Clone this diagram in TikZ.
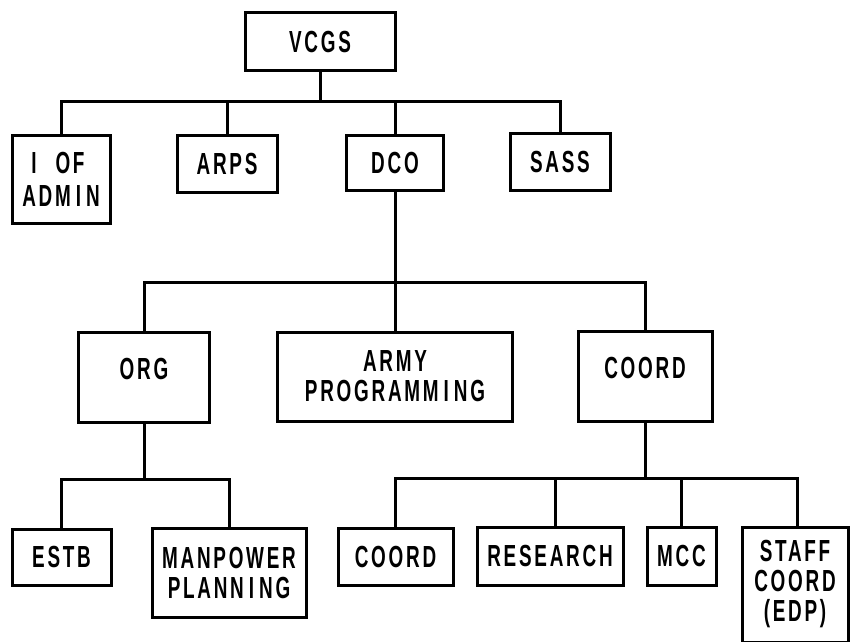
\documentclass[tikz,border=0pt]{standalone}
\usepackage{fontspec}
\setmainfont{Liberation Sans}[FakeStretch=0.62,LetterSpace=9]
\newcommand\Ii{\kern5pt I\kern5pt}
\begin{document}
\begin{tikzpicture}[x=1pt,y=-1pt,
  box/.style={draw, line width=3pt, inner sep=0pt, align=center,
    font=\bfseries\fontsize{30.5}{30}\selectfont},
  link/.style={line width=3pt}]
\useasboundingbox (0,0) rectangle (851,642);
% level 0
\node[box, minimum width=150pt, minimum height=58pt] (vcgs) at (320,42) {VCGS};
% level 1
\node[box, minimum width=98pt, minimum height=88pt, align=left] (admin) at (61,179) {\hspace*{9pt}I\kern19pt OF\\[3pt]ADM\Ii N};
\node[box, minimum width=100pt, minimum height=57pt] (arps) at (227,163.5) {ARPS};
\node[box, minimum width=97pt, minimum height=55pt] (dco) at (395,162.5) {DCO};
\node[box, minimum width=100pt, minimum height=57pt] (sass) at (560,161.5) {SASS};
% level 2
\node[box, minimum width=131pt, minimum height=90pt, text depth=16pt] (org) at (144,377) {ORG};
\node[box, minimum width=235pt, minimum height=89pt] (army) at (395,376.5) {ARMY\\PROGRAMM\Ii NG};
\node[box, minimum width=134pt, minimum height=90pt, text depth=16pt] (coord) at (645,376) {COORD};
% level 3
\node[box, minimum width=99pt, minimum height=56pt] (estb) at (61.5,557) {ESTB};
\node[box, minimum width=154pt, minimum height=89pt] (manp) at (229,572.5) {MANPOWER\\PLANN\Ii NG};
\node[box, minimum width=115pt, minimum height=57pt] (coord2) at (395.5,556.5) {COORD};
\node[box, minimum width=146pt, minimum height=58pt] (research) at (550,556) {RESEARCH};
\node[box, minimum width=69pt, minimum height=58pt] (mcc) at (681.5,556) {MCC};
\node[box, minimum width=106pt, minimum height=115pt] (staff) at (795,584.5) {STAFF\\COORD\\(EDP)};
% buses
\coordinate (b1) at (320,101);
\coordinate (b2) at (395,282);
\coordinate (b3) at (144,479);
\coordinate (b4) at (645,478);
% connectors
\draw[link] (vcgs) -- (b1);
\draw[link] (admin.north) |- (b1);
\draw[link] (arps.north) |- (b1);
\draw[link] (dco.north) |- (b1);
\draw[link] (sass.north) |- (b1);
\draw[link] (dco) -- (b2);
\draw[link] (org.north) |- (b2);
\draw[link] (army) -- (b2);
\draw[link] (coord.north) |- (b2);
\draw[link] (org) -- (b3);
\draw[link] (estb.north) |- (b3);
\draw[link] (manp.north) |- (b3);
\draw[link] (coord) -- (b4);
\draw[link] (coord2.north) |- (b4);
\draw[link] ([xshift=5pt]research.north) |- (b4);
\draw[link] (mcc.north) |- (b4);
\draw[link] ([xshift=2pt]staff.north) |- (b4);
\end{tikzpicture}
\end{document}
